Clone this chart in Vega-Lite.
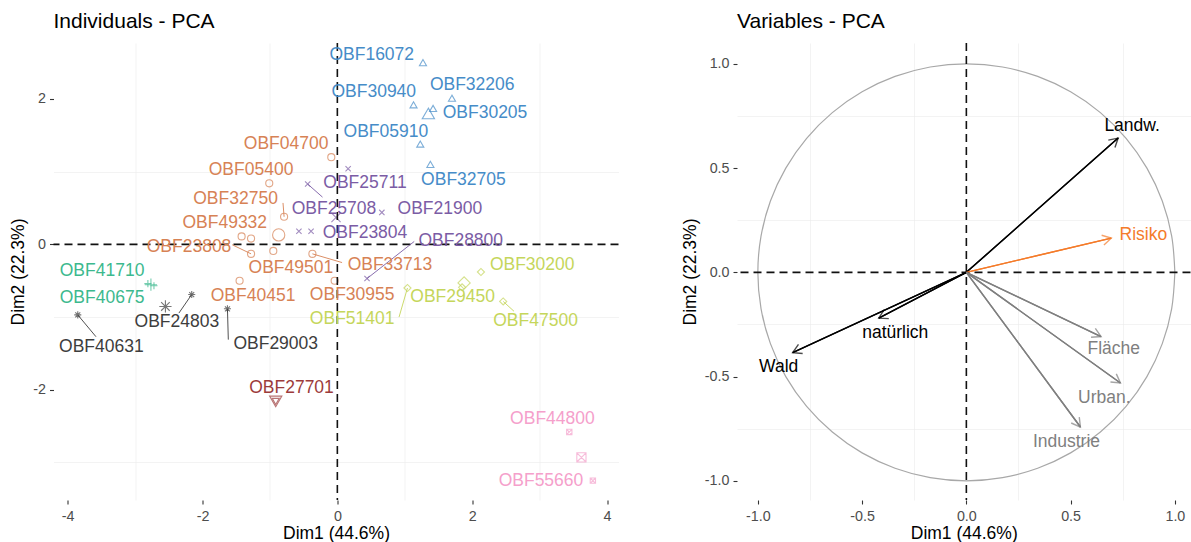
{
  "$schema": "https://vega.github.io/schema/vega-lite/v6.json",
  "background": "white",
  "padding": {"left": 9.5, "top": 11, "right": 0, "bottom": 0},
  "spacing": 61.5,
  "resolve": {"scale": {"color": "independent", "shape": "independent"}},
  "config": {
    "view": {"stroke": null},
    "font": "Liberation Sans",
    "axis": {
      "domain": false,
      "labelFont": "Liberation Sans",
      "labelFontSize": 14.3,
      "labelColor": "#4D4D4D",
      "tickColor": "#333333",
      "tickSize": 4,
      "tickWidth": 1.1,
      "labelPadding": 4,
      "titleFont": "Liberation Sans",
      "titleFontSize": 17.5,
      "titleFontWeight": "normal",
      "titleColor": "#000000",
      "titlePadding": 5,
      "gridColor": "#EBEBEB",
      "gridWidth": 1.2
    },
    "axisX": {"labelPadding": 5.5, "titlePadding": 1},
    "title": {"fontSize": 21, "fontWeight": "normal", "anchor": "start", "frame": "group", "color": "#000000", "font": "Liberation Sans", "offset": 10}
  },
  "datasets": {
    "ind": [
      {"id": "OBF16072", "g": "2", "x": 1.27, "y": 2.50, "lx": 0.51, "ly": 2.60},
      {"id": "OBF30940", "g": "2", "x": 1.13, "y": 1.92, "lx": 0.54, "ly": 2.10},
      {"id": "OBF32206", "g": "2", "x": 1.70, "y": 2.01, "lx": 2.00, "ly": 2.19},
      {"id": "OBF30205", "g": "2", "x": 1.42, "y": 1.87, "lx": 2.19, "ly": 1.81},
      {"id": "OBF05910", "g": "2", "x": 1.23, "y": 1.38, "lx": 0.72, "ly": 1.55},
      {"id": "OBF32705", "g": "2", "x": 1.38, "y": 1.10, "lx": 1.87, "ly": 0.89},
      {"id": "OBF04700", "g": "1", "x": -0.09, "y": 1.20, "lx": -0.76, "ly": 1.38},
      {"id": "OBF05400", "g": "1", "x": -1.01, "y": 0.84, "lx": -1.28, "ly": 1.03},
      {"id": "OBF32750", "g": "1", "x": -0.79, "y": 0.38, "lx": -1.51, "ly": 0.63, "sx": -0.806, "sy": 0.57},
      {"id": "OBF49332", "g": "1", "x": -1.42, "y": 0.11, "lx": -1.67, "ly": 0.30},
      {"id": "OBF12001", "g": "1", "x": -1.28, "y": 0.08},
      {"id": "OBF23808", "g": "1", "x": -1.28, "y": -0.13, "lx": -2.20, "ly": -0.04, "sx": -1.56, "sy": -0.005},
      {"id": "OBF49501", "g": "1", "x": -0.95, "y": -0.09, "lx": -0.69, "ly": -0.33},
      {"id": "OBF33713", "g": "1", "x": -0.37, "y": -0.13, "lx": 0.78, "ly": -0.28, "sx": 0.07, "sy": -0.25},
      {"id": "OBF40451", "g": "1", "x": -1.45, "y": -0.50, "lx": -1.25, "ly": -0.71},
      {"id": "OBF30955", "g": "1", "x": -0.04, "y": -0.50, "lx": 0.22, "ly": -0.69},
      {"id": "OBF25711", "g": "4", "x": 0.16, "y": 1.04, "lx": 0.41, "ly": 0.84},
      {"id": "OBF25708", "g": "4", "x": -0.44, "y": 0.83, "lx": -0.05, "ly": 0.49, "sx": -0.22, "sy": 0.65},
      {"id": "OBF21900", "g": "4", "x": 0.66, "y": 0.44, "lx": 1.52, "ly": 0.49},
      {"id": "OBF23804", "g": "4", "x": -0.39, "y": 0.18, "lx": 0.41, "ly": 0.16},
      {"id": "OBF23805", "g": "4", "x": -0.57, "y": 0.18},
      {"id": "OBF28800", "g": "4", "x": 0.44, "y": -0.47, "lx": 1.83, "ly": 0.05, "sx": 1.14, "sy": 0.04},
      {"id": "OBF41710", "g": "3", "x": -2.81, "y": -0.54, "lx": -3.49, "ly": -0.36},
      {"id": "OBF40675", "g": "3", "x": -2.72, "y": -0.57, "lx": -3.49, "ly": -0.74},
      {"id": "OBF40631", "g": "8", "x": -3.85, "y": -0.97, "lx": -3.50, "ly": -1.41, "sx": -3.58, "sy": -1.27},
      {"id": "OBF24803", "g": "8", "x": -2.16, "y": -0.69, "lx": -2.38, "ly": -1.07, "sx": -2.35, "sy": -0.945},
      {"id": "OBF29003", "g": "8", "x": -1.63, "y": -0.886, "lx": -0.914, "ly": -1.37, "sx": -1.617, "sy": -1.31},
      {"id": "OBF51401", "g": "5", "x": 1.04, "y": -0.60, "lx": 0.22, "ly": -1.03, "sx": 0.915, "sy": -1.00},
      {"id": "OBF29450", "g": "5", "x": 1.85, "y": -0.59, "lx": 1.71, "ly": -0.72},
      {"id": "OBF30200", "g": "5", "x": 2.13, "y": -0.38, "lx": 2.89, "ly": -0.28},
      {"id": "OBF47500", "g": "5", "x": 2.46, "y": -0.785, "lx": 2.94, "ly": -1.05, "sx": 2.62, "sy": -0.92},
      {"id": "OBF27701", "g": "6", "x": -0.914, "y": -2.16, "lx": -0.68, "ly": -1.98},
      {"id": "OBF44800", "g": "7", "x": 3.44, "y": -2.58, "lx": 3.19, "ly": -2.40},
      {"id": "OBF55660", "g": "7", "x": 3.79, "y": -3.25, "lx": 3.02, "ly": -3.25}
    ],
    "cent": [
      {"g": "1", "x": -0.87, "y": 0.13},
      {"g": "2", "x": 1.35, "y": 1.80},
      {"g": "3", "x": -2.765, "y": -0.555},
      {"g": "4", "x": -0.02, "y": 0.37},
      {"g": "5", "x": 1.88, "y": -0.53},
      {"g": "6", "x": -0.914, "y": -2.16},
      {"g": "7", "x": 3.62, "y": -2.93},
      {"g": "8", "x": -2.55, "y": -0.854}
    ],
    "vars": [
      {"v": "Landw.", "x": 0.728, "y": 0.644, "lx": 0.795, "ly": 0.704},
      {"v": "Risiko", "x": 0.695, "y": 0.164, "lx": 0.849, "ly": 0.18},
      {"v": "natürlich", "x": -0.42, "y": -0.22, "lx": -0.341, "ly": -0.292},
      {"v": "Wald", "x": -0.833, "y": -0.385, "lx": -0.9, "ly": -0.455},
      {"v": "Fläche", "x": 0.646, "y": -0.308, "lx": 0.707, "ly": -0.368},
      {"v": "Urban.", "x": 0.739, "y": -0.531, "lx": 0.662, "ly": -0.603},
      {"v": "Industrie", "x": 0.547, "y": -0.742, "lx": 0.48, "ly": -0.814}
    ],
    "circle": [
      {"a": 0, "x": 1, "y": 0}, {"a": 10, "x": 0.9848, "y": 0.1736}, {"a": 20, "x": 0.9397, "y": 0.342},
      {"a": 30, "x": 0.866, "y": 0.5}, {"a": 40, "x": 0.766, "y": 0.6428}, {"a": 50, "x": 0.6428, "y": 0.766},
      {"a": 60, "x": 0.5, "y": 0.866}, {"a": 70, "x": 0.342, "y": 0.9397}, {"a": 80, "x": 0.1736, "y": 0.9848},
      {"a": 90, "x": 0, "y": 1}, {"a": 100, "x": -0.1736, "y": 0.9848}, {"a": 110, "x": -0.342, "y": 0.9397},
      {"a": 120, "x": -0.5, "y": 0.866}, {"a": 130, "x": -0.6428, "y": 0.766}, {"a": 140, "x": -0.766, "y": 0.6428},
      {"a": 150, "x": -0.866, "y": 0.5}, {"a": 160, "x": -0.9397, "y": 0.342}, {"a": 170, "x": -0.9848, "y": 0.1736},
      {"a": 180, "x": -1, "y": 0}, {"a": 190, "x": -0.9848, "y": -0.1736}, {"a": 200, "x": -0.9397, "y": -0.342},
      {"a": 210, "x": -0.866, "y": -0.5}, {"a": 220, "x": -0.766, "y": -0.6428}, {"a": 230, "x": -0.6428, "y": -0.766},
      {"a": 240, "x": -0.5, "y": -0.866}, {"a": 250, "x": -0.342, "y": -0.9397}, {"a": 260, "x": -0.1736, "y": -0.9848},
      {"a": 270, "x": 0, "y": -1}, {"a": 280, "x": 0.1736, "y": -0.9848}, {"a": 290, "x": 0.342, "y": -0.9397},
      {"a": 300, "x": 0.5, "y": -0.866}, {"a": 310, "x": 0.6428, "y": -0.766}, {"a": 320, "x": 0.766, "y": -0.6428},
      {"a": 330, "x": 0.866, "y": -0.5}, {"a": 340, "x": 0.9397, "y": -0.342}, {"a": 350, "x": 0.9848, "y": -0.1736},
      {"a": 360, "x": 1, "y": 0}
    ]
  },
  "hconcat": [
    {
      "title": "Individuals - PCA",
      "width": 565,
      "height": 457,
      "resolve": {"axis": {"x": "independent", "y": "independent"}},
      "layer": [
        {
          "data": {"name": "cent"},
          "mark": {"type": "point", "filled": false, "strokeWidth": 1.1, "size": 150},
          "encoding": {
            "x": {"field": "x", "type": "quantitative", "scale": {"domain": [-4.21, 4.17], "nice": false, "zero": false},
              "axis": {"orient": "top", "values": [-3, -1, 1, 3], "grid": true, "gridWidth": 0.6, "ticks": false, "labels": false, "title": null, "minExtent": 0, "maxExtent": 0}},
            "y": {"field": "y", "type": "quantitative", "scale": {"domain": [-3.516, 2.77], "nice": false, "zero": false},
              "axis": {"orient": "right", "values": [-3, -1, 1], "grid": true, "gridWidth": 0.6, "ticks": false, "labels": false, "title": null, "minExtent": 0, "maxExtent": 0}},
            "color": {"field": "g", "type": "nominal", "legend": null,
              "scale": {"domain": ["1", "2", "3", "4", "5", "6", "7", "8"], "range": ["#D78255", "#468CC8", "#3CB98E", "#7B5CA5", "#C5D65B", "#9C3B3B", "#F5A0CB", "#3D3D3D"]}},
            "shape": {"field": "g", "type": "nominal", "legend": null,
              "scale": {"domain": ["1", "2", "3", "4", "5", "6", "7", "8"],
                "range": ["circle", "triangle-up", "M-1,0H1M0,-1V1", "M-0.75,-0.75L0.75,0.75M-0.75,0.75L0.75,-0.75", "diamond", "triangle-down", "M-0.75,-0.75H0.75V0.75H-0.75ZM-0.75,-0.75L0.75,0.75M-0.75,0.75L0.75,-0.75", "M-1,0H1M0,-1V1M-0.7,-0.7L0.7,0.7M-0.7,0.7L0.7,-0.7"]}}
          }
        },
        {
          "data": {"name": "ind"},
          "mark": {"type": "point", "filled": false, "strokeWidth": 1.1, "size": 50},
          "encoding": {
            "x": {"field": "x", "type": "quantitative", "scale": {"domain": [-4.21, 4.17], "nice": false, "zero": false},
              "axis": {"title": "Dim1 (44.6%)", "values": [-4, -2, 0, 2, 4],
                "labelExpr": "(datum.value < 0 ? '-' : '') + format(abs(datum.value), 'd')"}},
            "y": {"field": "y", "type": "quantitative", "scale": {"domain": [-3.516, 2.77], "nice": false, "zero": false},
              "axis": {"title": "Dim2 (22.3%)", "values": [-2, 0, 2],
                "labelExpr": "(datum.value < 0 ? '-' : '') + format(abs(datum.value), 'd')"}},
            "color": {"field": "g", "type": "nominal", "legend": null,
              "scale": {"domain": ["1", "2", "3", "4", "5", "6", "7", "8"], "range": ["#D78255", "#468CC8", "#3CB98E", "#7B5CA5", "#C5D65B", "#9C3B3B", "#F5A0CB", "#3D3D3D"]}},
            "shape": {"field": "g", "type": "nominal", "legend": null,
              "scale": {"domain": ["1", "2", "3", "4", "5", "6", "7", "8"],
                "range": ["circle", "triangle-up", "M-1,0H1M0,-1V1", "M-0.75,-0.75L0.75,0.75M-0.75,0.75L0.75,-0.75", "diamond", "triangle-down", "M-0.75,-0.75H0.75V0.75H-0.75ZM-0.75,-0.75L0.75,0.75M-0.75,0.75L0.75,-0.75", "M-1,0H1M0,-1V1M-0.7,-0.7L0.7,0.7M-0.7,0.7L0.7,-0.7"]}}
          }
        },
        {
          "data": {"values": [{}]},
          "mark": {"type": "rule", "strokeDash": [8, 5], "strokeWidth": 1.6, "color": "#111111"},
          "encoding": {"x": {"datum": 0, "type": "quantitative", "scale": {"domain": [-4.21, 4.17], "nice": false, "zero": false}, "axis": null}}
        },
        {
          "data": {"values": [{}]},
          "mark": {"type": "rule", "strokeDash": [8, 5], "strokeWidth": 1.6, "color": "#111111"},
          "encoding": {"y": {"datum": 0, "type": "quantitative", "scale": {"domain": [-3.516, 2.77], "nice": false, "zero": false}, "axis": null}}
        },
        {
          "data": {"name": "ind"},
          "transform": [{"filter": "isValid(datum.sx)"}],
          "mark": {"type": "rule", "strokeWidth": 0.9},
          "encoding": {
            "x": {"field": "x", "type": "quantitative", "scale": {"domain": [-4.21, 4.17], "nice": false, "zero": false}, "axis": null},
            "y": {"field": "y", "type": "quantitative", "scale": {"domain": [-3.516, 2.77], "nice": false, "zero": false}, "axis": null},
            "x2": {"field": "sx"},
            "y2": {"field": "sy"},
            "color": {"field": "g", "type": "nominal", "legend": null,
              "scale": {"domain": ["1", "2", "3", "4", "5", "6", "7", "8"], "range": ["#D78255", "#468CC8", "#3CB98E", "#7B5CA5", "#C5D65B", "#9C3B3B", "#F5A0CB", "#3D3D3D"]}}
          }
        },
        {
          "data": {"name": "ind"},
          "transform": [{"filter": "isValid(datum.lx)"}],
          "mark": {"type": "text", "fontSize": 17.5, "font": "Liberation Sans", "align": "center", "baseline": "middle"},
          "encoding": {
            "x": {"field": "lx", "type": "quantitative", "scale": {"domain": [-4.21, 4.17], "nice": false, "zero": false}, "axis": null},
            "y": {"field": "ly", "type": "quantitative", "scale": {"domain": [-3.516, 2.77], "nice": false, "zero": false}, "axis": null},
            "text": {"field": "id", "type": "nominal"},
            "color": {"field": "g", "type": "nominal", "legend": null,
              "scale": {"domain": ["1", "2", "3", "4", "5", "6", "7", "8"], "range": ["#D78255", "#468CC8", "#3CB98E", "#7B5CA5", "#C5D65B", "#9C3B3B", "#F5A0CB", "#3D3D3D"]}}
          }
        }
      ]
    },
    {
      "title": "Variables - PCA",
      "width": 453.5,
      "height": 457,
      "resolve": {"axis": {"x": "independent", "y": "independent"}},
      "layer": [
        {
          "data": {"name": "vars"},
          "mark": {"type": "rule", "strokeWidth": 1.4},
          "encoding": {
            "x": {"field": "x", "type": "quantitative", "scale": {"domain": [-1.1, 1.075], "nice": false, "zero": false},
              "axis": {"orient": "top", "values": [-0.75, -0.25, 0.25, 0.75], "grid": true, "gridWidth": 0.6, "ticks": false, "labels": false, "title": null, "minExtent": 0, "maxExtent": 0}},
            "y": {"field": "y", "type": "quantitative", "scale": {"domain": [-1.092, 1.1], "nice": false, "zero": false},
              "axis": {"orient": "right", "values": [-0.75, -0.25, 0.25, 0.75], "grid": true, "gridWidth": 0.6, "ticks": false, "labels": false, "title": null, "minExtent": 0, "maxExtent": 0}},
            "x2": {"datum": 0},
            "y2": {"datum": 0},
            "color": {"field": "v", "type": "nominal", "legend": null,
              "scale": {"domain": ["Landw.", "Risiko", "natürlich", "Wald", "Fläche", "Urban.", "Industrie"], "range": ["#000000", "#F47B2A", "#000000", "#000000", "#7F7F7F", "#7F7F7F", "#7F7F7F"]}}
          }
        },
        {
          "data": {"name": "circle"},
          "mark": {"type": "line", "color": "#A8A8A8", "strokeWidth": 1.2, "interpolate": "catmull-rom"},
          "encoding": {
            "x": {"field": "x", "type": "quantitative", "scale": {"domain": [-1.1, 1.075], "nice": false, "zero": false},
              "axis": {"title": "Dim1 (44.6%)", "values": [-1, -0.5, 0, 0.5, 1],
                "labelExpr": "(datum.value < 0 ? '-' : '') + format(abs(datum.value), '.1f')"}},
            "y": {"field": "y", "type": "quantitative", "scale": {"domain": [-1.092, 1.1], "nice": false, "zero": false},
              "axis": {"title": "Dim2 (22.3%)", "values": [-1, -0.5, 0, 0.5, 1],
                "labelExpr": "(datum.value < 0 ? '-' : '') + format(abs(datum.value), '.1f')"}},
            "order": {"field": "a", "type": "quantitative"}
          }
        },
        {
          "data": {"values": [{}]},
          "mark": {"type": "rule", "strokeDash": [8, 5], "strokeWidth": 1.6, "color": "#111111"},
          "encoding": {"x": {"datum": 0, "type": "quantitative", "scale": {"domain": [-1.1, 1.075], "nice": false, "zero": false}, "axis": null}}
        },
        {
          "data": {"values": [{}]},
          "mark": {"type": "rule", "strokeDash": [8, 5], "strokeWidth": 1.6, "color": "#111111"},
          "encoding": {"y": {"datum": 0, "type": "quantitative", "scale": {"domain": [-1.092, 1.1], "nice": false, "zero": false}, "axis": null}}
        },
        {
          "data": {"name": "vars"},
          "mark": {"type": "rule", "strokeWidth": 1.4},
          "encoding": {
            "x": {"field": "x", "type": "quantitative", "scale": {"domain": [-1.1, 1.075], "nice": false, "zero": false}, "axis": null},
            "y": {"field": "y", "type": "quantitative", "scale": {"domain": [-1.092, 1.1], "nice": false, "zero": false}, "axis": null},
            "x2": {"datum": 0},
            "y2": {"datum": 0},
            "color": {"field": "v", "type": "nominal", "legend": null,
              "scale": {"domain": ["Landw.", "Risiko", "natürlich", "Wald", "Fläche", "Urban.", "Industrie"], "range": ["#000000", "#F47B2A", "#000000", "#000000", "#7F7F7F", "#7F7F7F", "#7F7F7F"]}}
          }
        },
        {
          "data": {"name": "vars"},
          "transform": [{"calculate": "atan2(datum.x, datum.y) * 180 / PI", "as": "ang"}],
          "mark": {"type": "point", "filled": false, "strokeWidth": 1.4, "size": 400, "shape": "M-0.5,0.87L0,0L0.5,0.87"},
          "encoding": {
            "x": {"field": "x", "type": "quantitative", "scale": {"domain": [-1.1, 1.075], "nice": false, "zero": false}, "axis": null},
            "y": {"field": "y", "type": "quantitative", "scale": {"domain": [-1.092, 1.1], "nice": false, "zero": false}, "axis": null},
            "angle": {"field": "ang", "type": "quantitative", "scale": null},
            "color": {"field": "v", "type": "nominal", "legend": null,
              "scale": {"domain": ["Landw.", "Risiko", "natürlich", "Wald", "Fläche", "Urban.", "Industrie"], "range": ["#000000", "#F47B2A", "#000000", "#000000", "#7F7F7F", "#7F7F7F", "#7F7F7F"]}}
          }
        },
        {
          "data": {"name": "vars"},
          "mark": {"type": "text", "fontSize": 17.5, "font": "Liberation Sans", "align": "center", "baseline": "middle"},
          "encoding": {
            "x": {"field": "lx", "type": "quantitative", "scale": {"domain": [-1.1, 1.075], "nice": false, "zero": false}, "axis": null},
            "y": {"field": "ly", "type": "quantitative", "scale": {"domain": [-1.092, 1.1], "nice": false, "zero": false}, "axis": null},
            "text": {"field": "v", "type": "nominal"},
            "color": {"field": "v", "type": "nominal", "legend": null,
              "scale": {"domain": ["Landw.", "Risiko", "natürlich", "Wald", "Fläche", "Urban.", "Industrie"], "range": ["#000000", "#F47B2A", "#000000", "#000000", "#7F7F7F", "#7F7F7F", "#7F7F7F"]}}
          }
        }
      ]
    }
  ]
}
